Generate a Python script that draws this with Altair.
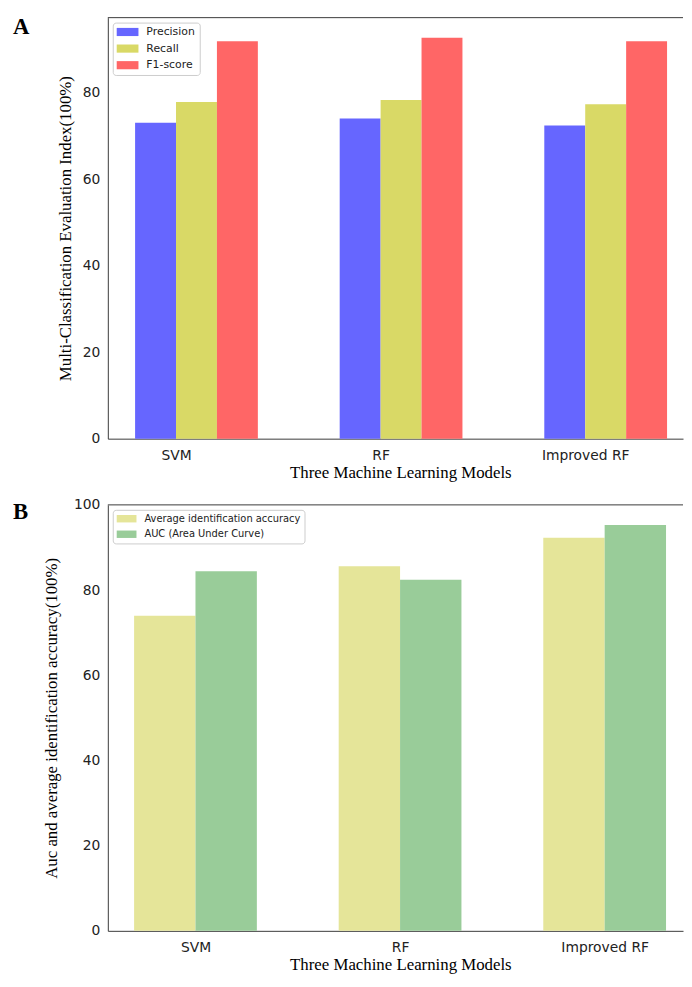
import json
import altair as alt
import pandas as pd

# ---------------- data ----------------
models = ["SVM", "RF", "Improved RF"]

series_a = ["Precision", "Recall", "F1-score"]
precision = [73.1, 74.1, 72.5]
recall = [77.9, 78.4, 77.4]
f1_score = [92.0, 92.8, 92.0]

series_b = ["Average identification accuracy", "AUC (Area Under Curve)"]
avg_accuracy = [74.0, 85.6, 92.3]
auc = [84.4, 82.4, 95.3]

yticks_a = [0, 20, 40, 60, 80]
yticks_b = [0, 20, 40, 60, 80, 100]

# ---------------- styles ----------------
colors_a = ["#6666ff", "#d9d966", "#ff6666"]
colors_b = ["#e5e599", "#99cc99"]
W = 582
H_A = 426
H_B = 431
FRAME = "#3a3a3a"
SERIF = "Liberation Serif"
SANS = "DejaVu Sans"


def build(values_by_series, names, offsets, width):
    rows = []
    for s, (name, vals) in enumerate(zip(names, values_by_series)):
        for i, v in enumerate(vals):
            x0 = i + offsets[s]
            rows.append({"model": models[i], "series": name, "x0": x0,
                         "x1": x0 + width, "value": v})
    return pd.DataFrame(rows)


df_a = build([precision, recall, f1_score], series_a, [-0.2, 0.0, 0.2], 0.2)
df_b = build([avg_accuracy, auc], series_b, [-0.3, 0.0], 0.3)

label_expr = json.dumps(models) + "[round(datum.value)]"


def panel(df, names, colors, xdom, ydom, yvals, ytitle, ytitle_pad, h,
          letter, letter_y, sym_scale, legend_font, label_offset, row_pad):
    x = alt.X("x0:Q",
              scale=alt.Scale(domain=xdom, nice=False, zero=False),
              axis=alt.Axis(values=[0, 1, 2], labelExpr=label_expr,
                            title="Three Machine Learning Models",
                            titleX=296, titlePadding=2, labelPadding=10))
    y = alt.Y("value:Q",
              scale=alt.Scale(domain=ydom, nice=False),
              axis=alt.Axis(values=yvals, title=ytitle,
                            titlePadding=ytitle_pad, labelPadding=8))
    sym = "M-1,-0.75L3,-0.75L3,0.75L-1,0.75Z"
    bars = alt.Chart(df).mark_bar(strokeWidth=0).encode(
        x=x, x2="x1:Q", y=y, y2=alt.datum(0),
        color=alt.Color("series:N",
                        scale=alt.Scale(domain=names, range=colors),
                        legend=alt.Legend(
                            orient="top-left", offset=5, title=None,
                            symbolType=sym, symbolSize=sym_scale ** 2,
                            symbolStrokeWidth=0, symbolOpacity=1,
                            labelFont=SANS, labelFontSize=legend_font,
                            labelColor="#222222", labelOffset=label_offset,
                            labelLimit=300,
                            padding=4, rowPadding=row_pad,
                            fillColor="white", strokeColor="#cccccc",
                            cornerRadius=3)),
    )
    top = alt.Chart(pd.DataFrame({"k": [0]})).mark_rule(
        color=FRAME, strokeWidth=1).encode(
        x=alt.value(0), x2=alt.value(W), y=alt.value(0))
    lab = alt.Chart(pd.DataFrame({"t": [letter]})).mark_text(
        font=SERIF, fontWeight="bold", fontSize=23, align="left",
        baseline="alphabetic", color="black").encode(
        x=alt.value(-96), y=alt.value(letter_y), text="t:N")
    return alt.layer(bars, top, lab).properties(width=W, height=h)


ymax_a = max(f1_score) * 1.05
chart_a = panel(df_a, series_a, colors_a, [-0.3333, 2.478], [0, ymax_a],
                yticks_a, "Multi-Classification Evaluation Index(100%)", 8,
                H_A, "A", 17, 11, 11, 19, 4.8)
chart_b = panel(df_b, series_b, colors_b, [-0.4285, 2.383], [0, 100],
                yticks_b, "Auc and average identification accuracy(100%)", 13,
                H_B, "B", 14, 10, 10, 18, 5.7)

chart = alt.vconcat(chart_a, chart_b, spacing=67, bounds="flush").resolve_scale(
    color="independent", x="independent", y="independent"
).properties(
    padding={"left": 5, "top": 3, "right": 0, "bottom": 5}
).configure_view(stroke=None).configure_axis(
    grid=False, ticks=False, domainColor=FRAME, domainWidth=1,
    labelFont=SANS, labelFontSize=14, labelColor="#222222",
    titleFont=SERIF, titleFontSize=17, titleFontWeight="normal",
    titleColor="black"
)

chart.save("out.html", embed_options={"renderer": "svg", "actions": False})
